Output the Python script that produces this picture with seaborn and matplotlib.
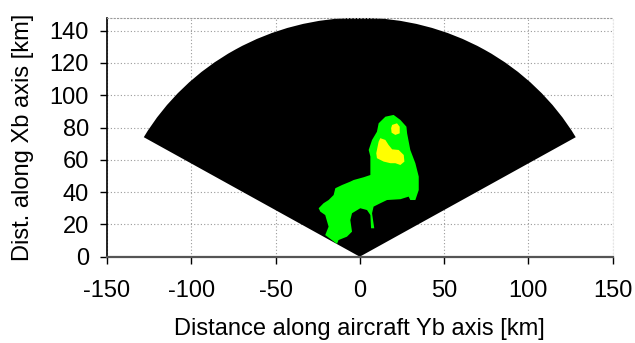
import numpy as np
import pandas as pd
import seaborn as sns
import matplotlib
matplotlib.use("Agg")
import matplotlib.pyplot as plt
from matplotlib.patches import Wedge

# ---- data ----
x_ticks = [-150, -100, -50, 0, 50, 100, 150]
y_ticks = [0, 20, 40, 60, 80, 100, 120, 140]
radar_range_km = 148
scan_half_angle_deg = 60

# green echo (weak returns) outline, km
green_x = [20.1, 24.1, 27.7, 28.1, 30.0, 33.0, 35.0, 35.0, 33.0, 30.0, 29.0, 24.1,
           16.2, 12.2, 8.2, 7.3, 8.6, 6.7, 6.3, 4.3, 0.3, -4.6, -5.6, -4.6, -7.6,
           -12.6, -13.5, -20.5, -18.5, -20.5, -23.4, -24.4, -21.5, -18.5, -15.5,
           -14.5, -10.5, -5.6, -3.6, 2.3, 6.3, 6.3, 5.3, 7.3, 10.2, 11.2, 15.2]
green_y = [87.8, 84.7, 80.5, 76.4, 66.1, 57.9, 49.6, 41.3, 35.1, 35.1, 37.2, 35.6,
           35.1, 33.1, 31.0, 26.9, 17.6, 17.6, 25.8, 28.9, 30.0, 26.9, 22.7, 15.5,
           12.4, 10.3, 7.9, 13.4, 18.6, 25.8, 27.9, 30.0, 33.1, 35.1, 38.2, 42.4,
           44.4, 46.5, 47.5, 49.2, 50.6, 62.0, 66.1, 72.3, 77.4, 82.6, 86.7]

# yellow echo cells (stronger returns), km
yellow1_x = [19.2, 22.1, 23.7, 23.7, 21.1, 18.9, 18.6]
yellow1_y = [81.6, 82.6, 80.5, 76.4, 75.4, 76.8, 79.6]
yellow2_x = [12.2, 15.2, 17.1, 19.2, 23.1, 26.1, 26.5, 24.1, 21.1, 18.2, 14.2,
             10.2, 9.8, 10.6, 11.2]
yellow2_y = [73.4, 72.3, 69.2, 66.5, 66.1, 63.0, 58.9, 56.8, 57.9, 57.9, 58.9,
             61.0, 64.1, 68.2, 71.2]

x_label = "Distance along aircraft Yb axis [km]"
y_label = "Dist. along Xb axis [km]"

# ---- style ----
sns.set_style("white")
plt.rcParams["font.family"] = ["Liberation Sans", "DejaVu Sans"]
plt.rcParams["axes.unicode_minus"] = False
plt.rcParams["text.color"] = "black"
plt.rcParams["axes.labelcolor"] = "black"
plt.rcParams["xtick.color"] = "black"
plt.rcParams["ytick.color"] = "black"

fig = plt.figure(figsize=(6.35, 3.43), dpi=100)
ax = fig.add_axes([0.1685, 0.2516, 0.7961, 0.6968])

ax.set_xlim(-150, 150)
ax.set_ylim(0, 148)

# grid
ax.set_xticks(x_ticks)
ax.set_yticks(y_ticks)
ax.grid(True, color="#9a9a9a", linestyle=(0, (1, 2)), linewidth=0.8)
ax.set_axisbelow(True)

# radar coverage sector
sector = Wedge((0, 0), radar_range_km, 90 - scan_half_angle_deg,
               90 + scan_half_angle_deg, facecolor="black", edgecolor="none",
               zorder=2)
ax.add_patch(sector)

echo = pd.DataFrame({"x": green_x, "y": green_y})
ax.fill(echo["x"], echo["y"], color="#00ff00", lw=0, zorder=3)
ax.fill(yellow1_x, yellow1_y, color="#ffff00", lw=0, zorder=4)
ax.fill(yellow2_x, yellow2_y, color="#ffff00", lw=0, zorder=4)

# spines
ax.spines["left"].set_color("black")
ax.spines["left"].set_linewidth(1.2)
ax.spines["bottom"].set_color("#555555")
ax.spines["bottom"].set_linewidth(1.6)
ax.spines["top"].set_visible(True)
ax.spines["top"].set_color("#9a9a9a")
ax.spines["top"].set_linestyle((0, (1, 2)))
ax.spines["top"].set_linewidth(0.8)
ax.spines["right"].set_visible(True)
ax.spines["right"].set_color("#e6e6e6")
ax.spines["right"].set_linestyle((0, (1, 2)))
ax.spines["right"].set_linewidth(0.8)
for s in ax.spines.values():
    s.set_zorder(5)

ax.tick_params(axis="both", which="both", direction="out", length=5, width=1,
               color="black", labelcolor="black", labelsize=17,
               left=True, bottom=True)
ax.tick_params(axis="x", pad=12)
ax.tick_params(axis="y", pad=8)

ax.set_xlabel(x_label, fontsize=17, labelpad=11, color="black")
ax.set_ylabel(y_label, fontsize=17, labelpad=11, color="black")

fig.savefig("out.png", dpi=100)
